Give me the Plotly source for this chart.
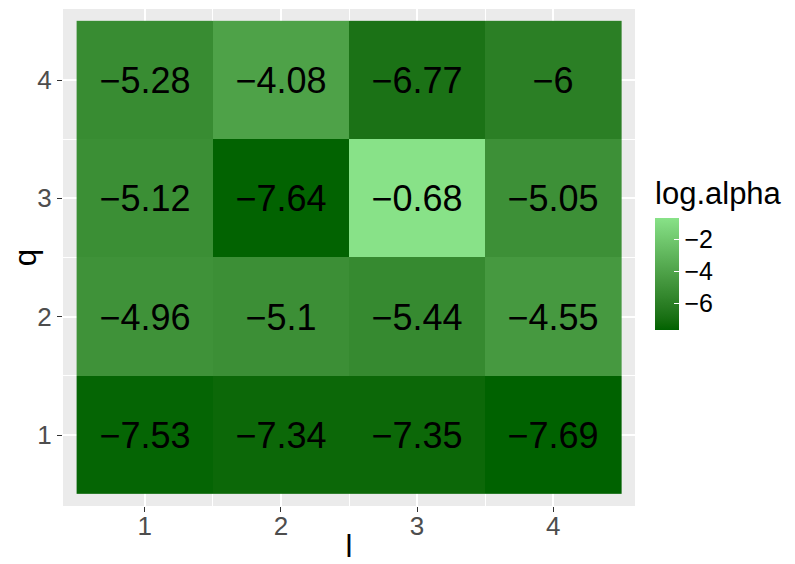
import plotly.graph_objects as go
import numpy as np

l_vals = [1, 2, 3, 4]
q_vals = [1, 2, 3, 4]
# rows: q = 1..4, columns: l = 1..4
log_alpha = [
    [-7.53, -7.34, -7.35, -7.69],
    [-4.96, -5.10, -5.44, -4.55],
    [-5.12, -7.64, -0.68, -5.05],
    [-5.28, -4.08, -6.77, -6.00],
]
cbar_ticks = [-2, -4, -6]


def hex2rgb(h):
    h = h.lstrip("#")
    return [int(h[i:i + 2], 16) / 255 for i in (0, 2, 4)]


def srgb2lin(c):
    return c / 12.92 if c <= 0.04045 else ((c + 0.055) / 1.055) ** 2.4


def lin2srgb(c):
    c = max(0, min(1, c))
    return 12.92 * c if c <= 0.0031308 else 1.055 * c ** (1 / 2.4) - 0.055


M = np.array([[0.4124, 0.3576, 0.1805], [0.2126, 0.7152, 0.0722], [0.0193, 0.1192, 0.9505]])
Minv = np.linalg.inv(M)
wp = M @ np.ones(3)


def f(t):
    return t ** (1 / 3) if t > 0.008856 else 7.787 * t + 16 / 116


def finv(t):
    return t ** 3 if t ** 3 > 0.008856 else (t - 16 / 116) / 7.787


def to_lab(h):
    xyz = M @ np.array([srgb2lin(c) for c in hex2rgb(h)]) / wp
    fx, fy, fz = [f(v) for v in xyz]
    return np.array([116 * fy - 16, 500 * (fx - fy), 200 * (fy - fz)])


def from_lab(lab):
    L, a, b = lab
    fy = (L + 16) / 116
    fx = fy + a / 500
    fz = fy - b / 200
    xyz = np.array([finv(fx), finv(fy), finv(fz)]) * wp
    rgb = [lin2srgb(c) for c in Minv @ xyz]
    return "rgb(%d,%d,%d)" % tuple(round(c * 255) for c in rgb)


lo, hi = to_lab("#006200"), to_lab("#88E288")
colorscale = [[t, from_lab(lo + (hi - lo) * t)] for t in np.linspace(0, 1, 21)]

text = [[f"{v:g}".replace("-", "\u2212") for v in row] for row in log_alpha]
zmin = min(min(r) for r in log_alpha)
zmax = max(max(r) for r in log_alpha)

# page has an 8px body margin; plot panel on page: x 63..635, y 9..506
bar_bottom = (506 - 330) / 497

fig = go.Figure(go.Heatmap(
    x=l_vals, y=q_vals, z=log_alpha, text=text, texttemplate="%{text}",
    textfont=dict(size=36, color="black", family="Liberation Sans, Arial, sans-serif"),
    colorscale=colorscale, zmin=zmin, zmax=zmax, xgap=0, ygap=0,
    colorbar=dict(
        title=dict(text="log.alpha", side="top", font=dict(size=31, color="black")),
        tickvals=cbar_ticks, ticktext=[f"{v}".replace("-", "\u2212") for v in cbar_ticks],
        tickfont=dict(size=25, color="black"),
        ticks="inside", ticklen=5, tickcolor="white", tickwidth=1,
        thickness=24, thicknessmode="pixels", len=152, lenmode="pixels",
        x=1.035, xanchor="left", y=bar_bottom, yanchor="bottom", outlinewidth=0,
        xpad=0, ypad=0,
    ),
    hoverinfo="skip",
))

axis_common = dict(
    range=[0.4, 4.6], tickvals=[1, 2, 3, 4], showgrid=True, gridcolor="white", gridwidth=2,
    minor=dict(tickvals=[1.5, 2.5, 3.5], showgrid=True, gridcolor="white", gridwidth=1, ticks=""),
    ticks="outside", ticklen=5, tickcolor="#333333", tickwidth=1,
    tickfont=dict(size=26, color="#4D4D4D"), zeroline=False, showline=False,
    automargin=False,
)

fig.update_layout(
    width=787, height=556,
    margin=dict(l=55, r=160, t=1, b=58),
    paper_bgcolor="white", plot_bgcolor="#EBEBEB",
    font=dict(family="Liberation Sans, Arial, sans-serif"),
    xaxis=dict(**axis_common, ticklabelstandoff=-8,
               title=dict(text="l", font=dict(size=31, color="black"), standoff=7)),
    yaxis=dict(**axis_common, title=dict(text="q", font=dict(size=31, color="black"), standoff=8)),
)

fig.write_html("out.html")
